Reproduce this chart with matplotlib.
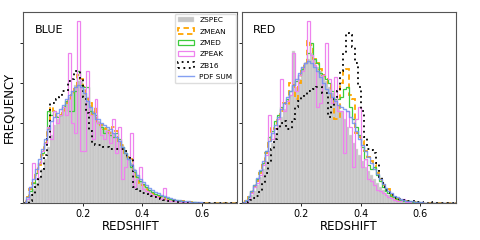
import numpy as np
import matplotlib
matplotlib.use("Agg")
import matplotlib.pyplot as plt

# bin edges in redshift (0.01 wide)
edges = np.round(np.arange(0.0, 0.725, 0.01), 3)
centers = edges[:-1] + 0.005

# BLUE sample
blue_zspec = [0.0, 0.05, 0.2, 0.35, 0.5, 0.65, 0.85, 1.1, 1.4, 1.7,
              1.95, 2.1, 2.2, 2.35, 2.5, 2.65, 2.8, 2.95, 3.05, 3.05,
              2.85, 2.65, 2.45, 2.3, 2.15, 2.05, 1.95, 1.9, 1.85, 1.8,
              1.75, 1.65, 1.55, 1.45, 1.3, 1.15, 1.0, 0.85, 0.7, 0.55,
              0.45, 0.38, 0.32, 0.27, 0.23, 0.2, 0.16, 0.13, 0.11, 0.09,
              0.07, 0.06, 0.05, 0.04, 0.03, 0.03, 0.02, 0.02, 0.015, 0.01,
              0.01, 0.01, 0.005, 0.005, 0.005, 0, 0, 0, 0, 0, 0, 0]
blue_zmean = [0.0, 0.15, 0.35, 0.5, 0.7, 0.95, 1.2, 1.5, 1.85, 2.4,
              2.3, 2.15, 2.2, 2.3, 2.5, 2.6, 2.75, 2.9, 3.2, 3.1,
              2.9, 2.6, 2.5, 2.2, 2.4, 2.0, 1.95, 1.85, 1.87, 1.75,
              1.9, 1.8, 1.55, 1.45, 1.25, 1.15, 1.1, 0.75, 0.6, 0.5,
              0.45, 0.35, 0.3, 0.25, 0.2, 0.18, 0.15, 0.12, 0.1, 0.08,
              0.07, 0.05, 0.05, 0.04, 0.03, 0.02, 0.02, 0.015, 0.01, 0.01,
              0.01, 0.005, 0.005, 0.005, 0, 0, 0, 0, 0, 0, 0, 0]
blue_zmed = [0.0, 0.1, 0.3, 0.5, 0.75, 1.0, 1.25, 1.5, 2.3, 2.2,
             2.3, 2.15, 2.2, 2.4, 2.55, 2.3, 2.3, 2.8, 3.3, 2.95,
             2.9, 2.9, 2.3, 2.25, 2.2, 2.0, 1.9, 1.75, 1.8, 1.7,
             1.65, 1.75, 1.6, 1.4, 1.25, 1.1, 0.9, 0.78, 0.65, 0.55,
             0.47, 0.4, 0.33, 0.28, 0.23, 0.2, 0.17, 0.14, 0.12, 0.1,
             0.08, 0.07, 0.05, 0.04, 0.03, 0.025, 0.02, 0.015, 0.01, 0.01,
             0.01, 0.005, 0.005, 0.005, 0.005, 0, 0, 0, 0, 0, 0, 0]
blue_zpeak = [0.0, 0.1, 0.4, 1.0, 0.6, 1.0, 1.3, 1.5, 1.9, 1.6,
              2.3, 2.0, 2.2, 2.4, 2.2, 3.75, 2.0, 1.75, 4.55, 1.3,
              1.3, 3.3, 2.2, 1.6, 2.6, 2.0, 1.7, 1.6, 1.8, 1.5,
              2.1, 1.25, 1.9, 0.6, 0.9, 1.1, 1.75, 0.4, 0.6, 0.9,
              0.35, 0.3, 0.25, 0.2, 0.18, 0.15, 0.1, 0.38, 0.08, 0.06,
              0.05, 0.04, 0.03, 0.03, 0.02, 0.02, 0.01, 0.01, 0.01, 0.005,
              0.005, 0, 0, 0, 0, 0, 0, 0, 0, 0, 0, 0]
blue_zb16 = [0.0, 0.0, 0.05, 0.2, 0.4, 0.6, 0.85, 1.2, 1.6, 2.5,
             2.5, 2.6, 2.65, 2.8, 2.8, 3.05, 3.1, 3.3, 3.3, 3.1,
             2.65, 2.25, 1.8, 1.5, 1.45, 1.45, 1.45, 1.4, 1.4, 1.35,
             1.35, 1.35, 1.35, 1.35, 1.3, 1.15, 1.1, 0.4, 0.35, 0.3,
             0.25, 0.22, 0.2, 0.17, 0.15, 0.12, 0.1, 0.08, 0.06, 0.05,
             0.04, 0.03, 0.02, 0.02, 0.01, 0.01, 0.01, 0.005, 0.005, 0,
             0, 0, 0, 0, 0, 0, 0, 0, 0, 0, 0, 0]
blue_pdf = [0.02, 0.15, 0.4, 0.6, 0.85, 1.1, 1.35, 1.6, 1.85, 2.05,
            2.15, 2.25, 2.35, 2.45, 2.6, 2.7, 2.8, 2.9, 2.95, 2.9,
            2.75, 2.55, 2.4, 2.25, 2.1, 2.1, 2.0, 1.95, 1.9, 1.85,
            1.75, 1.65, 1.55, 1.4, 1.25, 1.1, 0.95, 0.82, 0.7, 0.6,
            0.52, 0.45, 0.38, 0.33, 0.28, 0.24, 0.2, 0.17, 0.14, 0.12,
            0.1, 0.08, 0.07, 0.06, 0.05, 0.04, 0.03, 0.025, 0.02, 0.015,
            0.01, 0.01, 0.008, 0.006, 0.005, 0.004, 0.003, 0.002, 0.001, 0, 0, 0]

# RED sample
red_zspec = [0.0, 0.03, 0.1, 0.2, 0.3, 0.45, 0.65, 0.85, 1.05, 1.3,
             1.5, 1.75, 1.95, 2.15, 2.35, 2.5, 2.7, 3.8, 2.9, 3.1,
             3.4, 3.5, 3.6, 3.75, 3.6, 3.4, 3.3, 3.2, 3.05, 2.9,
             2.75, 2.6, 2.45, 2.3, 2.1, 1.9, 1.7, 1.5, 1.35, 1.2,
             1.05, 0.9, 0.8, 0.7, 0.6, 0.5, 0.4, 0.32, 0.26, 0.2,
             0.16, 0.12, 0.09, 0.07, 0.05, 0.04, 0.03, 0.025, 0.02, 0.015,
             0.01, 0.01, 0.005, 0.005, 0.005, 0, 0, 0, 0, 0, 0, 0]
red_zmean = [0.0, 0.05, 0.15, 0.25, 0.4, 0.55, 0.75, 0.95, 1.25, 1.5,
             1.9, 1.85, 2.1, 2.3, 2.5, 2.45, 3.0, 2.95, 2.6, 3.0,
             3.3, 3.5, 4.05, 3.95, 3.6, 3.5, 3.35, 3.2, 3.1, 3.0,
             2.6, 2.1, 2.1, 3.0, 3.3, 3.35, 2.7, 2.6, 1.75, 1.65,
             1.55, 1.3, 1.15, 1.05, 0.95, 0.75, 0.6, 0.45, 0.35, 0.35,
             0.2, 0.12, 0.1, 0.07, 0.05, 0.04, 0.03, 0.02, 0.015, 0.01,
             0.01, 0.005, 0.005, 0, 0, 0, 0, 0, 0, 0, 0, 0]
red_zmed = [0.0, 0.05, 0.15, 0.3, 0.45, 0.6, 0.8, 1.0, 1.3, 1.65,
            1.8, 2.05, 2.2, 2.4, 2.5, 2.6, 2.8, 2.95, 3.05, 3.2,
            3.35, 3.5, 3.75, 4.0, 3.6, 3.5, 3.25, 3.2, 3.1, 3.0,
            2.8, 2.6, 2.6, 2.65, 2.85, 2.9, 2.4, 2.1, 1.9, 1.7,
            1.4, 1.1, 0.95, 0.85, 0.9, 0.7, 0.55, 0.4, 0.3, 0.25,
            0.18, 0.14, 0.1, 0.08, 0.06, 0.05, 0.04, 0.03, 0.02, 0.015,
            0.01, 0.01, 0.005, 0.005, 0.005, 0.005, 0, 0, 0, 0, 0, 0]
red_zpeak = [0.0, 0.03, 0.1, 0.25, 0.4, 0.5, 0.7, 0.95, 1.2, 2.2,
             1.6, 1.85, 2.1, 3.1, 2.3, 2.55, 2.7, 3.75, 2.8, 3.2,
             3.3, 3.5, 4.55, 3.7, 3.45, 2.4, 2.5, 3.2, 4.0, 3.1,
             2.5, 3.15, 2.3, 2.3, 1.25, 2.3, 1.9, 0.9, 2.1, 2.4,
             0.9, 1.1, 0.6, 0.55, 0.45, 0.33, 0.3, 0.25, 0.2, 0.15,
             0.12, 0.08, 0.06, 0.04, 0.1, 0.03, 0.02, 0.01, 0.01, 0.005,
             0.005, 0, 0, 0, 0, 0, 0, 0, 0, 0, 0, 0]
red_zb16 = [0.0, 0.0, 0.03, 0.08, 0.12, 0.18, 0.3, 0.5, 0.75, 1.0,
            1.35, 1.6, 1.85, 2.0, 2.05, 1.85, 1.85, 2.1, 2.4, 2.55,
            2.65, 2.7, 2.8, 2.8, 2.85, 2.9, 2.9, 2.75, 2.75, 2.15,
            2.4, 2.6, 2.8, 3.3, 3.75, 4.25, 4.2, 3.9, 3.5, 2.9,
            2.3, 1.66, 1.35, 1.32, 1.25, 1.0, 0.66, 0.5, 0.4, 0.3,
            0.24, 0.18, 0.12, 0.1, 0.08, 0.06, 0.05, 0.04, 0.03, 0.02,
            0.02, 0.01, 0.01, 0.03, 0.01, 0.005, 0, 0, 0, 0, 0, 0]
red_pdf = [0.02, 0.08, 0.18, 0.3, 0.45, 0.62, 0.82, 1.05, 1.3, 1.55,
           1.75, 1.95, 2.15, 2.35, 2.5, 2.65, 2.8, 2.95, 3.1, 3.25,
           3.4, 3.5, 3.55, 3.5, 3.4, 3.3, 3.15, 3.0, 2.85, 2.75,
           2.65, 2.55, 2.45, 2.4, 2.35, 2.3, 2.15, 2.0, 1.8, 1.6,
           1.45, 1.3, 1.15, 1.0, 0.85, 0.72, 0.6, 0.48, 0.38, 0.3,
           0.24, 0.18, 0.14, 0.1, 0.08, 0.06, 0.05, 0.04, 0.03, 0.02,
           0.015, 0.01, 0.01, 0.008, 0.006, 0.004, 0.003, 0.002, 0.001, 0, 0, 0]

panels = [
    ("BLUE", blue_zspec, blue_zmean, blue_zmed, blue_zpeak, blue_zb16, blue_pdf),
    ("RED", red_zspec, red_zmean, red_zmed, red_zpeak, red_zb16, red_pdf),
]

fig, axes = plt.subplots(1, 2, figsize=(4.8, 2.4), dpi=100, sharey=True)
fig.subplots_adjust(left=0.048, right=0.95, bottom=0.154, top=0.95, wspace=0.019)

for ax, (name, zspec, zmean, zmed, zpeak, zb16, pdf) in zip(axes, panels):
    ax.hist(centers, bins=edges, weights=zspec, histtype='bar', color='#c6c6c6',
            edgecolor='#dedede', linewidth=0.3, label='ZSPEC')
    ax.hist(centers, bins=edges, weights=zmean, histtype='step', color='orange',
            linestyle=(0, (3, 2)), linewidth=1.3, label='ZMEAN')
    ax.hist(centers, bins=edges, weights=zmed, histtype='step', color='#3ccc3c',
            linewidth=0.9, label='ZMED')
    ax.hist(centers, bins=edges, weights=zpeak, histtype='step', color='violet',
            linewidth=0.9, label='ZPEAK')
    ax.hist(centers, bins=edges, weights=zb16, histtype='step', color='black',
            linestyle=(0, (1, 2)), linewidth=1.3, label='ZB16')
    ax.step(centers, pdf, where='mid', color='#7090f0', alpha=0.85,
            linewidth=1.0, label='PDF SUM')

    ax.set_xlim(0.0, 0.72)
    ax.set_ylim(0, 4.78)
    ax.set_xticks([0.2, 0.4, 0.6])
    ax.set_xticklabels(['0.2', '0.4', '0.6'])
    ax.set_yticks([0, 1, 2, 3, 4])
    ax.tick_params(axis='x', labelsize=7, length=2.5, width=0.6, pad=1.5)
    ax.tick_params(axis='y', labelleft=False, length=2.5, width=0.6)
    for sp in ax.spines.values():
        sp.set_color('#555555')
        sp.set_linewidth(0.8)
    ax.set_xlabel('REDSHIFT', fontsize=8.5, labelpad=1)
    ax.text(0.055, 0.905, name, transform=ax.transAxes, fontsize=8, va='center')

axes[0].set_ylabel('FREQUENCY', fontsize=8.5, labelpad=3)
axes[0].legend(loc='upper right', fontsize=5.3, frameon=True, borderpad=0.45,
               labelspacing=0.7, handlelength=2.2, handletextpad=0.7,
               borderaxespad=0.25, framealpha=1.0, edgecolor='#dddddd')

plt.savefig('out.png', dpi=100)
